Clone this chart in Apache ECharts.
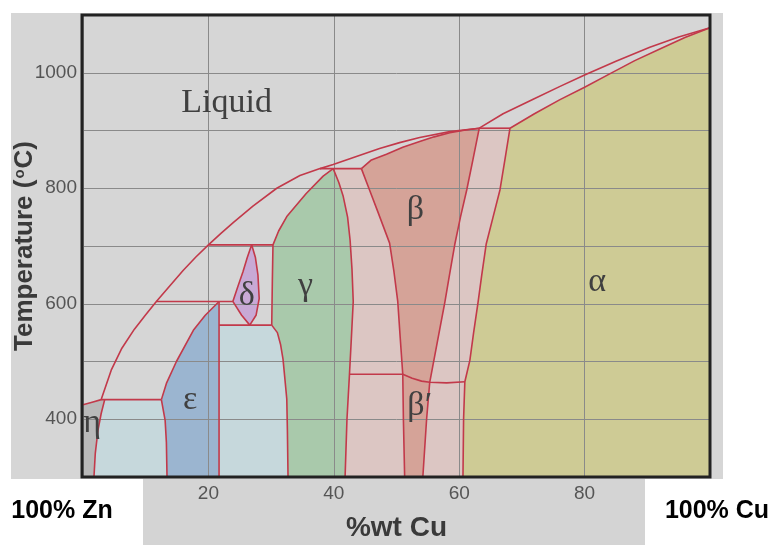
<!DOCTYPE html>
<html>
<head>
<meta charset="utf-8">
<script src="https://cdn.jsdelivr.net/npm/echarts@6/dist/echarts.min.js"></script>
<style>
html,body{margin:0;padding:0;background:#ffffff;}
#chart{width:771px;height:545px;}
</style>
</head>
<body>
<div id="chart"></div>
<script>
// ---------- tick labels ----------
const xTickLabels = [20, 40, 60, 80];
const yTickLabels = [400, 600, 800, 1000];

// ---------- phase boundaries: [wt% Cu, temperature °C] ----------
const liquidusZn = [[0,425],[1.6,430],[2.9,434],[4.5,485],[6.2,523],[8.2,556],[10,581],[11.7,604],[14,633],[16,658],[18,681],[20,702],[22,722],[24,741],[27.1,769],[30.9,800],[34.6,822],[37.8,834],[39.9,841],[43.6,855],[47.3,869],[50.5,879],[53.7,888],[58.5,898],[63.2,904]];
const liquidusCu = [[63.2,904],[67,929],[71.8,954],[76,976],[80,996],[85,1020],[90.4,1044],[95,1062],[100,1078]];
const alphaSolidus = [[68.1,904],[72,929],[76,953],[80,975],[84,998],[88,1021],[92,1041],[96,1061],[100,1078]];
const betaSolidus = [[44.4,834],[46,849],[48.4,859],[51,871],[53.7,881],[56,889],[58.5,896],[61,901],[63.2,904]];
const betaLeft = [[44.4,834],[45.7,797],[47.0,760],[48.9,705],[49.6,655],[50.2,604],[50.6,540],[51.0,478]];
const betaRight = [[63.2,904],[62.2,850],[61.2,797],[60.2,750],[59.3,703],[58.5,653],[57.7,602],[56.5,533],[55.3,464]];
const betaPrimeCurve = [[51.0,478],[52.5,471],[54,466],[55.3,464],[58,463],[60.9,465]];
const betaPrimeLeft = [[51.0,478],[51.1,400],[51.3,300]];
const betaPrimeRight = [[55.3,464],[54.8,400],[54.2,300]];
const alphaLeft = [[68.1,904],[67.3,850],[66.5,797],[65.4,750],[64.3,703],[63.6,650],[63.0,602],[62.3,550],[61.7,502],[60.9,465],[60.7,400],[60.6,300]];
const gammaRight = [[39.9,834],[40.8,810],[41.5,786],[42.2,750],[42.6,710],[42.9,660],[43.1,604],[42.8,540],[42.5,478],[42.1,400],[41.8,300]];
const gammaSolidus = [[39.9,834],[38.3,821],[35.6,791],[32.5,751],[31.2,726],[30.3,702]];
const gammaLeftUpper = [[30.3,702],[30.2,640],[30.1,563]];
const gammaLeftLower = [[30.1,563],[31.0,550],[31.5,530],[31.9,504],[32.2,470],[32.5,435],[32.6,380],[32.7,300]];
const deltaLens = [[26.9,702],[26.2,680],[25.5,655],[24.7,630],[23.9,604],[25.3,580],[26.6,563],[27.6,580],[28.1,609],[27.9,650],[27.5,680],[26.9,702]];
const epsilonUpper = [[12.5,434],[13.3,462],[14.9,500],[17.6,554],[19.5,580],[21.7,604]];
const epsilonLower = [[12.5,434],[13.1,398],[13.3,360],[13.4,300]];
const epsilonRight = [[21.7,604],[21.7,300]];
const etaBoundary = [[3.46,434],[2.9,410],[2.39,381],[1.96,341],[1.75,300]];
const iso904 = [[63.2,904],[68.1,904]];
const iso834 = [[37.8,834],[44.4,834]];
const iso702 = [[20,702],[30.3,702]];
const iso604 = [[11.7,604],[23.9,604]];
const iso563 = [[21.7,563],[30.1,563]];
const iso478 = [[42.5,478],[51.0,478]];
const iso434 = [[2.9,434],[12.5,434]];

// ---------- phase labels: [text, wt% Cu, °C] ----------
const phaseLabels = [['β', 53.0, 762], ['α', 82.0, 638], ['γ', 35.5, 630], ['δ', 26.1, 613], ['ε', 17.1, 433], ['η', 1.45, 393], ['β′', 53.7, 423]];
const liquidLabel = [['Liquid', 22.9, 948]];

// ---------- build regions from the boundaries ----------
const rev = a => a.slice().reverse();
const fillRegions = [
  { pts: [[0,300]].concat(liquidusZn.slice(0,3), etaBoundary), color: '#b9b9b9' },
  { pts: rev(etaBoundary).concat(epsilonLower), color: '#c6d8dc' },
  { pts: [[21.7,563]].concat(gammaLeftLower, [[21.7,300]]), color: '#c6d8dc' },
  { pts: epsilonUpper.concat([[21.7,300]], rev(epsilonLower)), color: '#9bb5d0' },
  { pts: deltaLens, color: '#c8a9d5' },
  { pts: gammaSolidus.concat(gammaLeftUpper.slice(1), gammaLeftLower.slice(1), rev(gammaRight)), color: '#a9c9ab' },
  { pts: betaSolidus.concat(alphaLeft, rev(gammaRight)), color: '#dcc6c3' },
  { pts: betaSolidus.concat(betaRight.slice(1), rev(betaPrimeCurve.slice(0,4)).slice(1), rev(betaLeft).slice(1)), color: '#d5a398' },
  { pts: betaPrimeCurve.slice(0,4).concat(betaPrimeRight.slice(1), rev(betaPrimeLeft)), color: '#d5a398' },
  { pts: alphaSolidus.concat([[100,300]], rev(alphaLeft)), color: '#cecb95' }
];
const boundaryLines = [liquidusZn, liquidusCu, alphaSolidus, betaSolidus, betaLeft, betaRight, betaPrimeCurve,
  betaPrimeLeft, betaPrimeRight, alphaLeft, gammaRight, gammaSolidus, gammaLeftUpper, gammaLeftLower, deltaLens,
  epsilonUpper, epsilonLower, epsilonRight, etaBoundary, iso904, iso834, iso702, iso604, iso563, iso478, iso434];

const chart = echarts.init(document.getElementById('chart'), null, { renderer: 'canvas' });
const PLOT = { left: 83, top: 15, width: 627, height: 462 };

chart.setOption({
  animation: false,
  backgroundColor: '#ffffff',
  grid: { left: PLOT.left, top: PLOT.top, width: PLOT.width, height: PLOT.height, show: false,
          containLabel: false, outerBoundsMode: 'none' },
  xAxis: {
    type: 'value', min: 0, max: 100, interval: 20, z: 6,
    axisLine: { show: false }, axisTick: { show: false },
    splitLine: { show: true, lineStyle: { color: '#8a8a8a', width: 1 } },
    axisLabel: { margin: 7, fontSize: 19, color: '#555555', fontFamily: 'Liberation Sans',
      formatter: v => xTickLabels.includes(v) ? String(v) : '' },
    name: '%wt Cu', nameLocation: 'middle', nameGap: 37, nameMoveOverlap: false,
    nameTextStyle: { fontSize: 28, fontWeight: 'bold', color: '#3a3a3a', fontFamily: 'Liberation Sans' }
  },
  yAxis: {
    type: 'value', min: 300, max: 1100, interval: 100, z: 6,
    axisLine: { show: false }, axisTick: { show: false },
    splitLine: { show: true, lineStyle: { color: '#8a8a8a', width: 1 } },
    axisLabel: { margin: 6, fontSize: 19, color: '#555555', fontFamily: 'Liberation Sans',
      formatter: v => yTickLabels.includes(v) ? String(v) : '' },
    name: 'Temperature ({sup|o}C)', nameLocation: 'middle', nameGap: 45, nameMoveOverlap: false,
    nameTextStyle: { fontSize: 26, fontWeight: 'bold', color: '#3a3a3a', fontFamily: 'Liberation Sans',
      rich: { sup: { fontSize: 15, fontWeight: 'bold', color: '#3a3a3a', fontFamily: 'Liberation Sans', verticalAlign: 'top', padding: [0, 1, 10, 1] } } }
  },
  graphic: [
    { type: 'rect', z: 0, silent: true, shape: { x: 11, y: 13, width: 712, height: 466 }, style: { fill: '#d6d6d6' } },
    { type: 'rect', z: 0, silent: true, shape: { x: 143, y: 479, width: 502, height: 66 }, style: { fill: '#d4d4d4' } },
    { type: 'rect', z: 20, silent: true, shape: { x: PLOT.left - 1, y: PLOT.top, width: PLOT.width + 1, height: PLOT.height }, style: { fill: null, stroke: '#222222', lineWidth: 3 } },
    { type: 'text', z: 20, x: 62, y: 511, style: { text: '100% Zn', font: 'bold 25px "Liberation Sans"', fill: '#000000', align: 'center', verticalAlign: 'middle' } },
    { type: 'text', z: 20, x: 717, y: 511, style: { text: '100% Cu', font: 'bold 25px "Liberation Sans"', fill: '#000000', align: 'center', verticalAlign: 'middle' } }
  ],
  series: [
    {
      type: 'custom', name: 'phases', z: 5, silent: true,
      data: fillRegions.map(() => [50, 700]),
      renderItem: (params, api) => ({
        type: 'polygon',
        shape: { points: fillRegions[params.dataIndex].pts.map(p => api.coord(p)) },
        style: { fill: fillRegions[params.dataIndex].color, stroke: null }
      })
    },
    {
      type: 'custom', name: 'boundaries', z: 7, silent: true,
      data: boundaryLines.map(() => [50, 700]),
      renderItem: (params, api) => ({
        type: 'polyline',
        shape: { points: boundaryLines[params.dataIndex].map(p => api.coord(p)) },
        style: { stroke: '#c2394a', lineWidth: 1.6, fill: null, lineJoin: 'round' }
      })
    },
    {
      type: 'custom', name: 'labels', z: 8, silent: true,
      data: phaseLabels.map(l => [l[1], l[2]]),
      renderItem: (params, api) => {
        const p = api.coord([api.value(0), api.value(1)]);
        return { type: 'text', x: p[0], y: p[1],
          style: { text: phaseLabels[params.dataIndex][0], font: '34px "Liberation Serif"', fill: '#404040', align: 'center', verticalAlign: 'middle' } };
      }
    },
    {
      type: 'custom', name: 'liquid', z: 8, silent: true,
      data: liquidLabel.map(l => [l[1], l[2]]),
      renderItem: (params, api) => {
        const p = api.coord([api.value(0), api.value(1)]);
        return { type: 'text', x: p[0], y: p[1],
          style: { text: liquidLabel[params.dataIndex][0], font: '34px "Liberation Serif"', fill: '#404040', align: 'center', verticalAlign: 'middle' } };
      }
    }
  ]
});
</script>
</body>
</html>
